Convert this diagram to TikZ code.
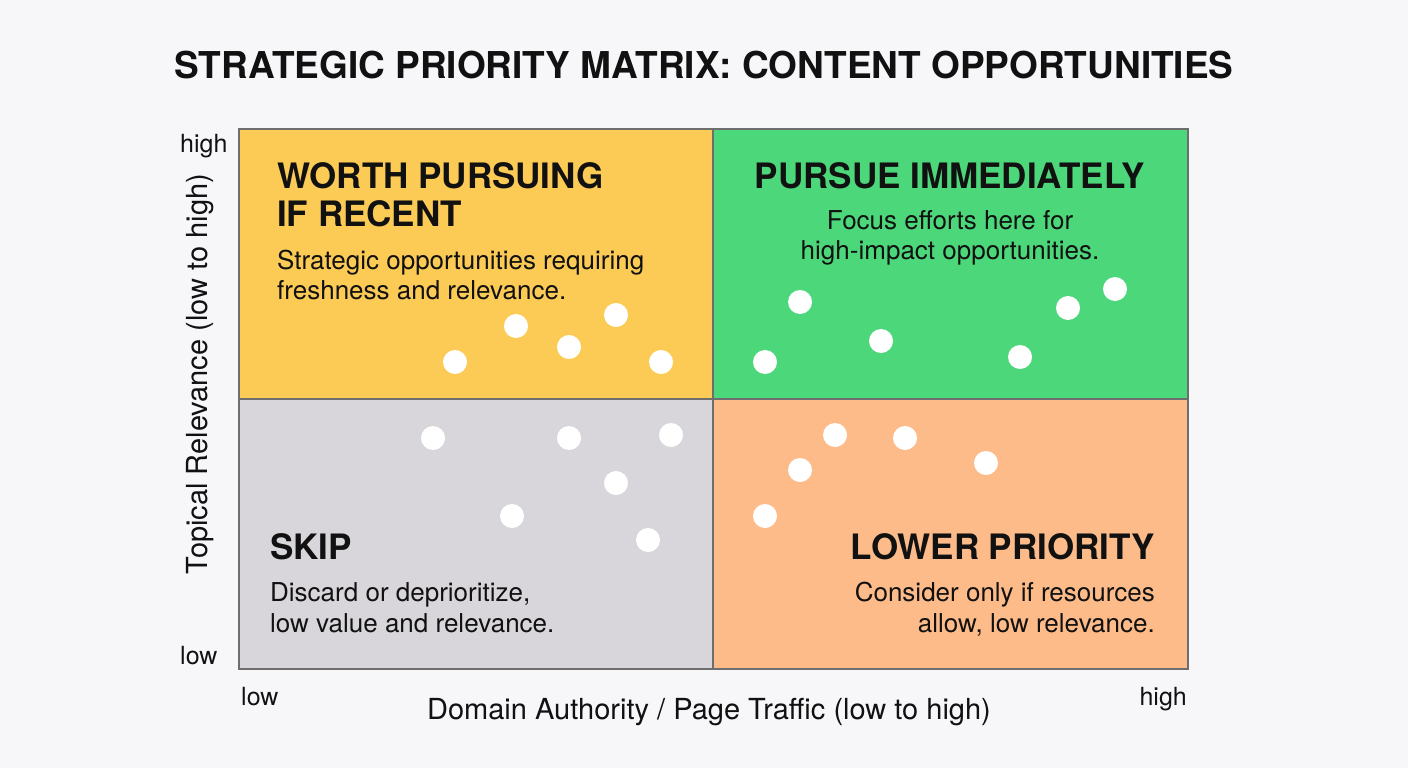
\documentclass[tikz,border=0pt]{standalone}
\usepackage{fontspec}
\setmainfont{TeX Gyre Heros}
\definecolor{bg}{HTML}{F7F6F9}
\definecolor{qyellow}{HTML}{FCCB55}
\definecolor{qgreen}{HTML}{4CD87A}
\definecolor{qgray}{HTML}{D8D6DA}
\definecolor{qorange}{HTML}{FDBB8A}
\definecolor{edge}{HTML}{6E6E6E}
\definecolor{ink}{HTML}{111111}
\tikzset{
  dot/.style={fill=white},
  qtitle/.style={inner sep=0pt, text=ink, font=\fontsize{35}{38}\selectfont\bfseries},
  qdesc/.style={inner sep=0pt, text=ink, font=\fontsize{26}{30}\selectfont},
  axlab/.style={inner sep=0pt, text=ink, font=\fontsize{25}{30}\selectfont},
  axtitle/.style={inner sep=0pt, text=ink, font=\fontsize{29}{32}\selectfont},
}
\begin{document}
\begin{tikzpicture}[x=1pt,y=-1pt]
\useasboundingbox[fill=bg] (0,0) rectangle (1408,768);
% title
\node[inner sep=0pt, anchor=base, text=ink, font=\fontsize{37}{44}\selectfont\bfseries] (title) at (704,78) {STRATEGIC PRIORITY MATRIX: CONTENT OPPORTUNITIES};
% quadrants
\fill[qyellow] (239,129) rectangle (713,399);
\fill[qgreen] (713,129) rectangle (1188,399);
\fill[qgray] (239,399) rectangle (713,669);
\fill[qorange] (713,399) rectangle (1188,669);
\draw[edge, line width=1.2pt] (239,129) rectangle (1188,669);
\draw[edge, line width=1.2pt] (713,129) -- (713,669);
\draw[edge, line width=1.2pt] (239,399) -- (1188,399);
% dots
\foreach \x/\y in {455/362,516/326,569/347,616/315,661/362,
  765/362,800/302,881/341,1020/357,1068/308,1115/289,
  433/438,569/438,671/435,616/483,512/516,648/540,
  765/516,800/470,835/435,905/438,986/463}
  \fill[dot] (\x,\y) circle (12pt);
% worth pursuing
\node[qtitle, anchor=base west] (wp1) at (277,188) {WORTH PURSUING};
\node[qtitle, anchor=base west] (wp2) at (277,226) {IF RECENT};
\node[qdesc, anchor=base west] (wpd1) at (277,269) {Strategic opportunities requiring};
\node[qdesc, anchor=base west] (wpd2) at (277,299) {freshness and relevance.};
% pursue immediately
\node[qtitle, anchor=base] (pi1) at (950,188) {PURSUE IMMEDIATELY};
\node[qdesc, anchor=base] (pid1) at (950,229) {Focus efforts here for};
\node[qdesc, anchor=base] (pid2) at (950,259) {high-impact opportunities.};
% skip
\node[qtitle, anchor=base west] (sk1) at (270,559) {SKIP};
\node[qdesc, anchor=base west] (skd1) at (270,601) {Discard or deprioritize,};
\node[qdesc, anchor=base west] (skd2) at (270,632) {low value and relevance.};
% lower priority
\node[qtitle, anchor=base east] (lp1) at (1155,559) {LOWER PRIORITY};
\node[qdesc, anchor=base east] (lpd1) at (1155,601) {Consider only if resources};
\node[qdesc, anchor=base east] (lpd2) at (1155,632) {allow, low relevance.};
% axes labels
\node[axlab, anchor=base west] (yhigh) at (180,152) {high};
\node[axlab, anchor=base west] (ylow) at (180,664) {low};
\node[axlab, anchor=base west] (xlow) at (241,705) {low};
\node[axlab, anchor=base east] (xhigh) at (1187,705) {high};
\node[axtitle, rotate=90, anchor=base] (ylab) at (207,374) {Topical Relevance (low to high)};
\node[axtitle, anchor=base] (xlab) at (709,719) {Domain Authority / Page Traffic (low to high)};
\end{tikzpicture}
\end{document}
